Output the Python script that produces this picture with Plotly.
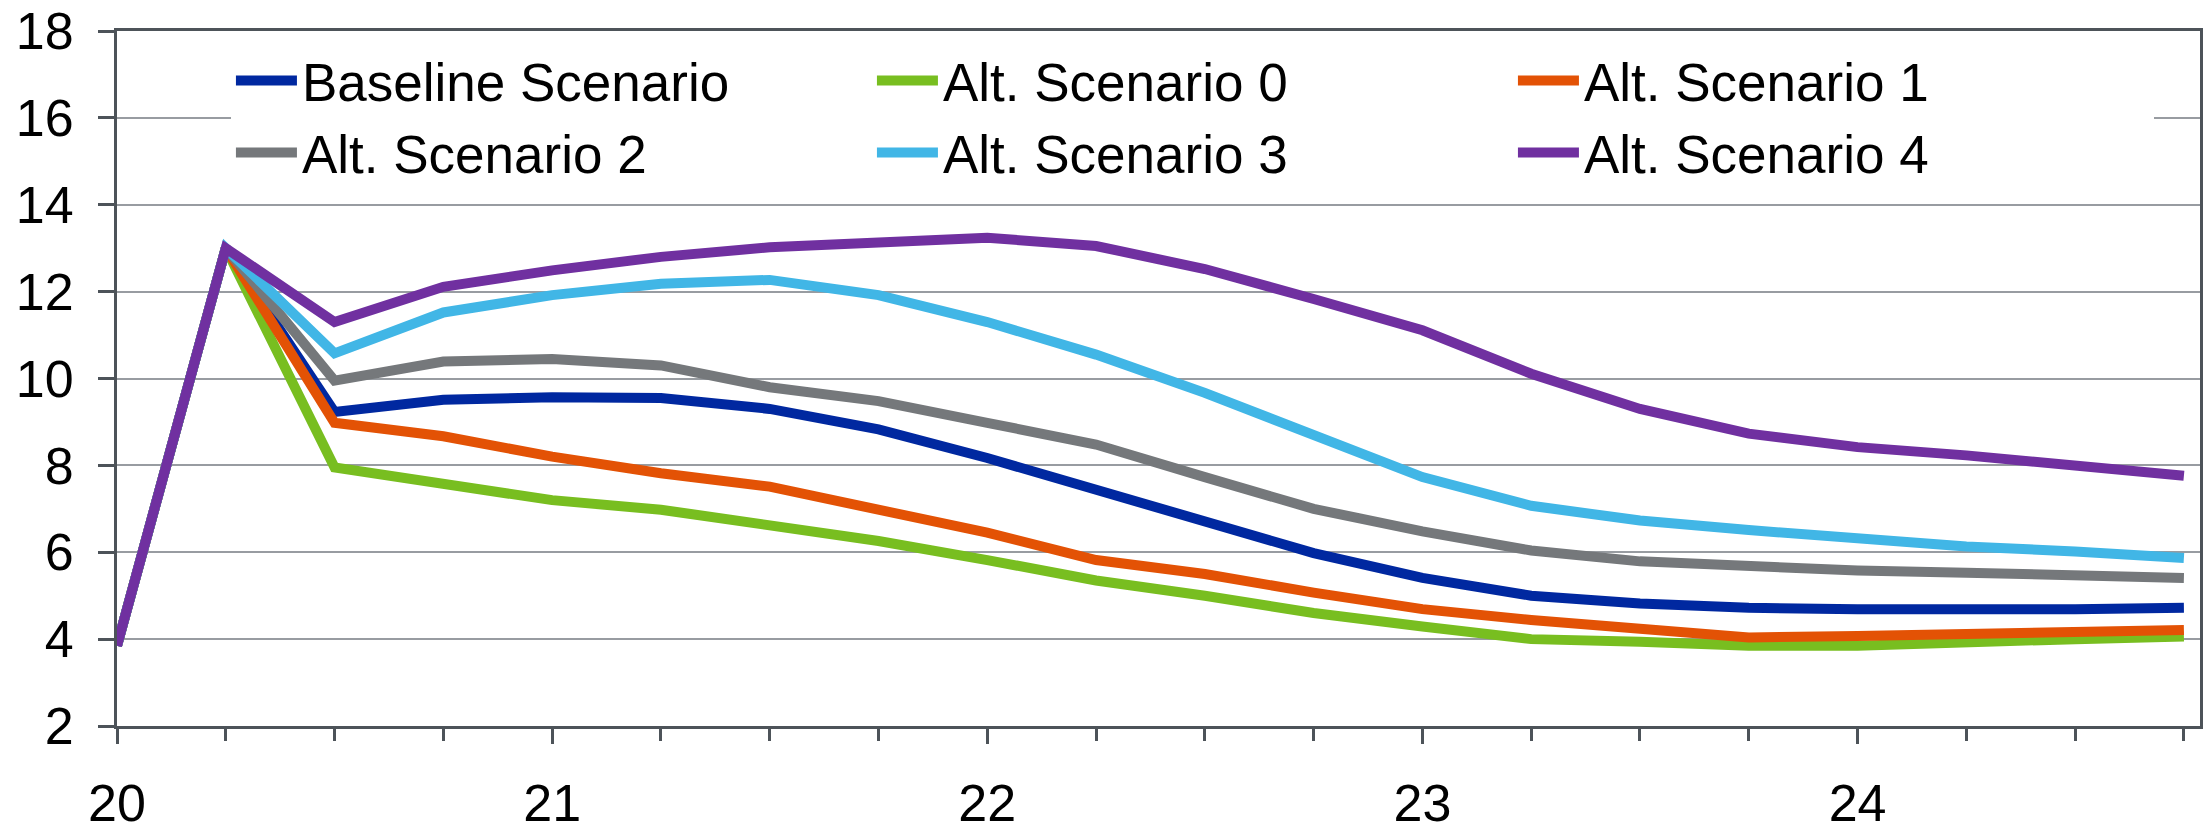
import plotly.graph_objects as go

# Quarterly time axis (year + quarter fraction)
quarters = [20 + 0.25 * i for i in range(20)]

baseline = [3.85, 13.0, 9.23, 9.51, 9.57, 9.55, 9.3, 8.83, 8.17, 7.42, 6.7, 5.98,
            5.41, 5.0, 4.82, 4.72, 4.69, 4.67, 4.69, 4.72]
alt0 = [3.85, 13.0, 7.95, 7.6, 7.2, 6.98, 6.63, 6.26, 5.82, 5.35, 5.0, 4.6,
        4.29, 4.0, 3.94, 3.85, 3.85, 3.9, 4.0, 4.06]
alt1 = [3.85, 13.0, 8.98, 8.67, 8.2, 7.82, 7.51, 7.0, 6.45, 5.82, 5.5, 5.07,
        4.69, 4.44, 4.22, 4.04, 4.07, 4.1, 4.15, 4.21]
alt2 = [3.85, 13.0, 9.95, 10.39, 10.45, 10.3, 9.8, 9.48, 8.98, 8.48, 7.73, 7.0,
        6.48, 6.04, 5.79, 5.66, 5.58, 5.53, 5.48, 5.41]
alt3 = [3.85, 13.0, 10.58, 11.52, 11.92, 12.18, 12.27, 11.92, 11.3, 10.55, 9.67, 8.7,
        7.73, 7.07, 6.73, 6.51, 6.32, 6.13, 6.02, 5.87]
alt4 = [3.85, 13.0, 11.3, 12.11, 12.49, 12.8, 13.02, 13.15, 13.24, 13.05, 12.52, 11.83,
        11.11, 10.11, 9.3, 8.73, 8.42, 8.23, 8.01, 7.76]

series_names = ["Baseline Scenario", "Alt. Scenario 0", "Alt. Scenario 1",
                "Alt. Scenario 2", "Alt. Scenario 3", "Alt. Scenario 4"]
series_values = [baseline, alt0, alt1, alt2, alt3, alt4]
series_colors = ["#0028a0", "#78be20", "#e35205", "#75787b", "#41b6e6", "#7030a0"]

year_ticks = [20, 21, 22, 23, 24]
year_labels = ["20", "21", "22", "23", "24"]

AXIS_COLOR = "#4d5359"
GRID_COLOR = "#989ca1"
TICK_FONT = dict(family="Liberation Sans, Arial, sans-serif", size=52, color="black")
LEGEND_FONT = dict(family="Liberation Sans, Arial, sans-serif", size=53, color="black")
X_RANGE = [20, 24.787]
Y_RANGE = [2, 18]

fig = go.Figure()
for name, vals, col in zip(series_names, series_values, series_colors):
    fig.add_trace(go.Scatter(
        x=quarters, y=vals, name=name, mode="lines",
        line=dict(color=col, width=10),
    ))

fig.update_layout(
    width=2205, height=834,
    margin=dict(l=117, r=2, t=28, b=87),
    paper_bgcolor="white", plot_bgcolor="white",
    showlegend=True,
    legend=dict(
        orientation="h",
        x=0.0547, y=0.9876, xanchor="left", yanchor="top",
        entrywidth=565, entrywidthmode="pixels",
        itemwidth=61,
        bgcolor="white",
        font=LEGEND_FONT,
        traceorder="normal",
    ),
    xaxis=dict(
        range=X_RANGE,
        tickmode="array", tickvals=year_ticks, ticktext=year_labels,
        ticks="outside", ticklen=15, tickwidth=3, tickcolor=AXIS_COLOR,
        minor=dict(dtick=0.25, tick0=20, ticks="outside", ticklen=12,
                   tickwidth=3, tickcolor=AXIS_COLOR, showgrid=False),
        showgrid=False, zeroline=False,
        showline=True, linecolor=AXIS_COLOR, linewidth=3, mirror=True,
        tickfont=TICK_FONT, ticklabelstandoff=15,
        ticklabeloverflow="allow",
    ),
    yaxis=dict(
        range=Y_RANGE, dtick=2, tick0=2,
        ticks="outside", ticklen=16, tickwidth=3, tickcolor=AXIS_COLOR,
        showgrid=True, gridcolor=GRID_COLOR, gridwidth=2,
        zeroline=False,
        showline=True, linecolor=AXIS_COLOR, linewidth=3, mirror=True,
        tickfont=TICK_FONT, ticklabelstandoff=14,
        ticklabeloverflow="allow",
    ),
    # overlay axes supply the inner half of the crossing tick marks
    xaxis2=dict(
        range=X_RANGE, overlaying="x", anchor="y", side="bottom",
        tickmode="array", tickvals=year_ticks, showticklabels=False,
        ticks="inside", ticklen=15, tickwidth=3, tickcolor=AXIS_COLOR,
        minor=dict(dtick=0.25, tick0=20, ticks="inside", ticklen=12,
                   tickwidth=3, tickcolor=AXIS_COLOR),
        showgrid=False, zeroline=False, showline=False,
    ),
    yaxis2=dict(
        range=Y_RANGE, overlaying="y", anchor="x", side="left",
        dtick=2, tick0=2, showticklabels=False,
        ticks="inside", ticklen=16, tickwidth=3, tickcolor=AXIS_COLOR,
        showgrid=False, zeroline=False, showline=False,
    ),
)

fig.write_html("out.html")
